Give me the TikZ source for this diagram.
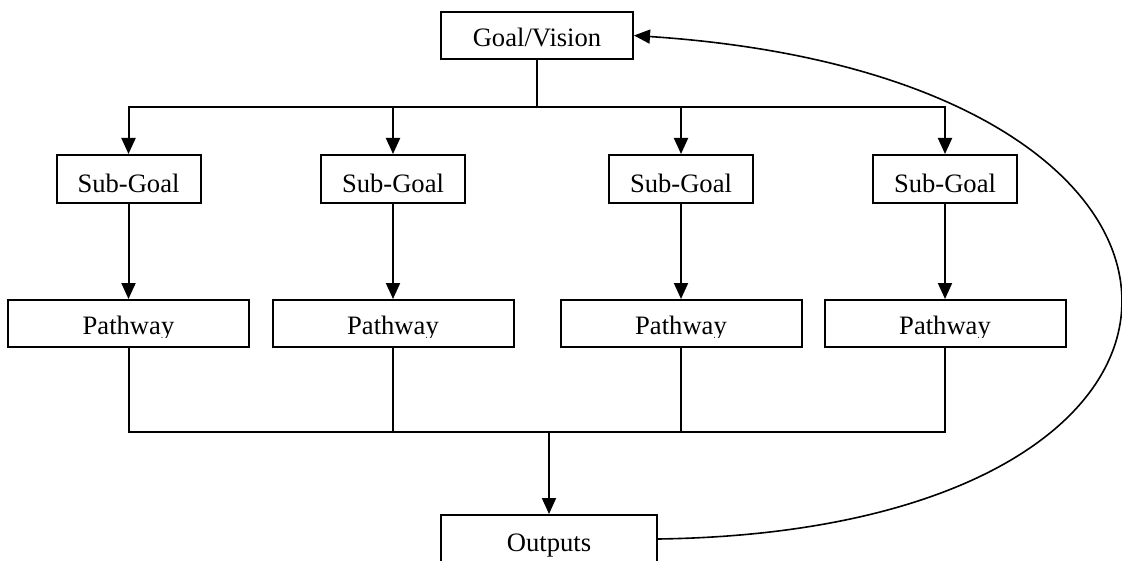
\documentclass[tikz,border=0pt]{standalone}
\usepackage{fontspec}
\setmainfont{Liberation Serif}
\usetikzlibrary{arrows.meta}
\begin{document}
\begin{tikzpicture}[x=0.5pt,y=-0.5pt,
  box/.style={draw,line width=1pt,inner sep=0pt,fill=white},
  txt/.style={inner sep=0pt,anchor=base,font=\fontsize{13.3pt}{16pt}\selectfont},
  conn/.style={line width=1pt},
  arr/.style={line width=1pt,-{Triangle[length=8pt,width=7pt]}}]
\clip (0,0) rectangle (1122,561);
\useasboundingbox (0,0) rectangle (1122,561);
% boxes
\node[box,minimum width=96pt,minimum height=23.5pt] (goal) at (537,35.5) {};
\foreach \i/\x in {1/128.5,2/393,3/681,4/945}{
  \node[box,minimum width=72pt,minimum height=24pt] (sg\i) at (\x,179) {};
  \node[box,minimum width=120.5pt,minimum height=23.5pt] (pw\i) at (\x,323.5) {};
}
\node[box,minimum width=108pt,minimum height=24pt] (out) at (549,539) {};
% texts
\node[txt] (goalt) at (537,47) {Goal/Vision};
\foreach \i/\x in {1/128.5,2/393,3/681,4/945}{
  \node[txt] (sgt\i) at (\x,192) {Sub-Goal};
  \begin{scope}
    \clip (pw\i.north west) rectangle ([yshift=5.5pt]pw\i.south east);
    \node[txt] (pwt\i) at (\x,334) {Pathway};
  \end{scope}
}
\node[txt] (outt) at (549,551) {Outputs};
% connectors
\coordinate (tb) at (537,107);
\coordinate (bb) at (549,432);
\draw[conn] (goal.south) -- (tb);
\foreach \i in {1,2,3,4}{
  \draw[arr] (tb) -| (sg\i.north);
  \draw[arr] (sg\i.south) -- (pw\i.north);
  \draw[conn] (pw\i.south) |- (bb);
}
\draw[arr] (bb) -- (out.north);
\draw[arr,line width=0.8pt] (out.east) .. controls (1278,530) and (1278,78) .. (goal.east);
\end{tikzpicture}
\end{document}
